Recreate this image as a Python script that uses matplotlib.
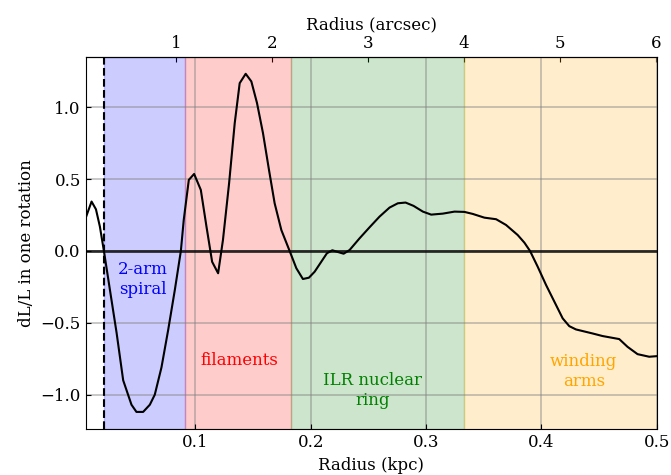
import numpy as np
import matplotlib
matplotlib.use("Agg")
import matplotlib.pyplot as plt

plt.rcParams['font.family'] = 'DejaVu Serif'

# radial profile
radius_kpc = [0.005, 0.0101, 0.0139, 0.0173, 0.0208, 0.026, 0.0318, 0.0375, 0.0447, 0.049,
              0.0548, 0.0606, 0.0649, 0.0707, 0.0765, 0.0823, 0.0875, 0.090, 0.0944, 0.099,
              0.1048, 0.1097, 0.1146, 0.1198, 0.124, 0.1293, 0.1342, 0.1385, 0.1437, 0.1486,
              0.1535, 0.1587, 0.1639, 0.1688, 0.1746, 0.1818, 0.1876, 0.1933, 0.1985, 0.2035,
              0.2093, 0.2141, 0.2188, 0.2236, 0.2286, 0.2338, 0.2424, 0.2511, 0.2597, 0.2684,
              0.2756, 0.2823, 0.2892, 0.2973, 0.3045, 0.3146, 0.3247, 0.3333, 0.3405, 0.3506,
              0.3608, 0.3694, 0.3795, 0.3853, 0.3902, 0.3968, 0.4041, 0.4113, 0.4185, 0.4242,
              0.43, 0.4444, 0.4531, 0.4675, 0.4747, 0.4834, 0.4935, 0.5]
dl_over_l = [0.23, 0.344, 0.29, 0.17, 0.0, -0.27, -0.57, -0.9, -1.07, -1.12,
             -1.12, -1.07, -1.0, -0.81, -0.55, -0.27, 0.0, 0.216, 0.495, 0.536,
             0.425, 0.17, -0.075, -0.155, 0.077, 0.47, 0.89, 1.168, 1.233, 1.18,
             1.03, 0.82, 0.564, 0.332, 0.146, 0.0, -0.12, -0.195, -0.186, -0.144,
             -0.074, -0.016, 0.005, -0.007, -0.019, 0.007, 0.088, 0.165, 0.239, 0.302,
             0.332, 0.337, 0.314, 0.274, 0.253, 0.26, 0.274, 0.272, 0.258, 0.232,
             0.221, 0.181, 0.111, 0.058, 0.0, -0.109, -0.237, -0.353, -0.469, -0.523,
             -0.546, -0.574, -0.592, -0.613, -0.667, -0.718, -0.736, -0.732]

kpc_per_arcsec = 0.0832

# region edges (kpc), names, colours
region_edges = [0.0208, 0.0915, 0.183, 0.3328, 0.5]
region_names = ["2-arm\nspiral", "filaments", "ILR nuclear\nring", "winding\narms"]
region_colors = ["blue", "red", "green", "orange"]
label_x = [0.0547, 0.1383, 0.2539, 0.4368]
label_y = [-0.2, -0.765, -0.97, -0.84]

fig = plt.figure(figsize=(6.71, 4.75), dpi=100)
ax = fig.add_axes([0.1277, 0.0962, 0.851, 0.7832])

for i in range(len(region_names)):
    ax.axvspan(region_edges[i], region_edges[i+1], color=region_colors[i], alpha=0.2)
    ax.text(label_x[i], label_y[i], region_names[i], color=region_colors[i],
            ha='center', va='center', fontsize=12, multialignment='center')

ax.axvline(region_edges[0], color='k', ls='--', lw=1.5)
ax.axhline(0, color='k', lw=2, alpha=0.8)
ax.plot(radius_kpc, dl_over_l, color='k', lw=1.5)

ax.set_xlim(0.005, 0.5)
ax.set_ylim(-1.241, 1.348)
ax.set_xticks([0.1, 0.2, 0.3, 0.4, 0.5])
ax.set_yticks([-1.0, -0.5, 0.0, 0.5, 1.0])
ax.grid(True, color='gray', alpha=0.5, lw=1.2)
ax.tick_params(direction='in', labelsize=12)
ax.set_xlabel("Radius (kpc)", fontsize=12)
ax.set_ylabel("dL/L in one rotation", fontsize=12)

top = ax.secondary_xaxis('top', functions=(lambda x: x / kpc_per_arcsec,
                                           lambda x: x * kpc_per_arcsec))
top.set_xticks([1, 2, 3, 4, 5, 6])
top.tick_params(direction='in', labelsize=12)
top.set_xlabel("Radius (arcsec)", fontsize=12)

fig.savefig("out.png", dpi=100)
